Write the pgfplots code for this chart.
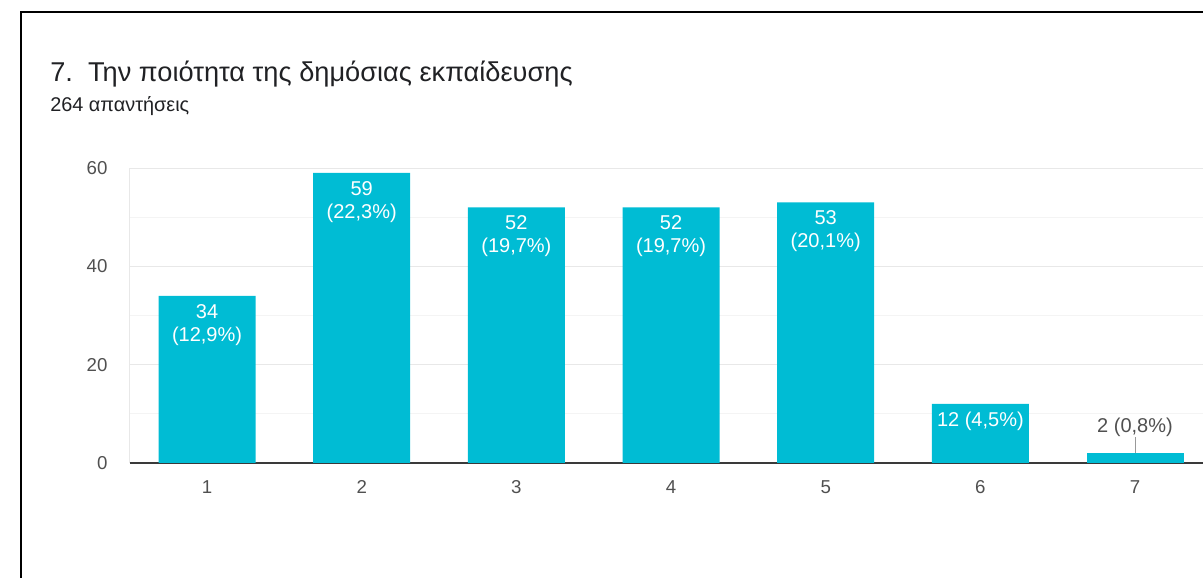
\documentclass[border=0pt]{standalone}
\usepackage{pgfplots}
\pgfplotsset{compat=1.18}
\usepackage{fontspec}
\setmainfont{Liberation Sans}
\definecolor{barc}{HTML}{00BCD4}
\definecolor{titlec}{HTML}{202124}
\definecolor{tickc}{HTML}{505050}
\definecolor{gridmaj}{HTML}{E8E8E8}
\definecolor{gridmin}{HTML}{F4F4F4}
\definecolor{basec}{HTML}{3A3A3A}
\begin{document}
\begin{tikzpicture}[x=0.75pt,y=0.75pt]
\useasboundingbox (0,0) rectangle (1203,578);
\draw[black, line width=1.5pt] (21,0) -- (21,566) -- (1203,566);
\node[anchor=base west, inner sep=0, text=titlec, font=\fontsize{20.4}{24}\selectfont] at (50,496) {7.\ \ Την ποιότητα της δημόσιας εκπαίδευσης};
\node[anchor=base west, inner sep=0, text=titlec, font=\fontsize{14.9}{17}\selectfont] at (50,466) {264 απαντήσεις};
\coordinate (O) at (129.7,115);
\begin{axis}[
  at={(O)}, anchor=south west,
  scale only axis, width=812pt, height=221.25pt,
  xmin=0.5, xmax=7.5, ymin=0, ymax=60,
  ybar, bar width=72.75pt, bar shift=0pt,
  xtick={1,2,3,4,5,6,7},
  ytick={0,20,40,60}, minor ytick={10,30,50},
  ymajorgrids, yminorgrids,
  major grid style={gridmaj, line width=0.75pt},
  minor grid style={gridmin, line width=0.75pt},
  axis x line*=bottom, axis y line*=left,
  x axis line style={basec, line width=1.3pt, -},
  y axis line style={gridmaj, line width=0.75pt, -},
  major tick length=0pt, minor tick length=0pt,
  tick style={draw=none},
  /pgf/number format/assume math mode=true,
  ticklabel style={font=\fontsize{14}{16}\selectfont, text=tickc},
  xticklabel style={anchor=north, inner sep=0pt, yshift=-12.75pt},
  yticklabel style={anchor=east, inner sep=0pt, xshift=-16.5pt},
  clip=false,
]
\addplot[fill=barc, draw=none, nodes near coords, point meta=explicit symbolic,
  every node near coord/.style={anchor=north, inner sep=0pt, yshift=-6pt, text=white, align=center, font=\fontsize{15}{17.25}\selectfont}]
  coordinates {
  (1,34) [34\\(12,9\%)]
  (2,59) [59\\(22,3\%)]
  (3,52) [52\\(19,7\%)]
  (4,52) [52\\(19,7\%)]
  (5,53) [53\\(20,1\%)]
  (6,12) [12 (4,5\%)]
  };
\addplot[fill=barc, draw=none, nodes near coords, point meta=explicit symbolic,
  every node near coord/.style={anchor=base, inner sep=0pt, yshift=15.75pt, text=tickc, font=\fontsize{15}{17.25}\selectfont}]
  coordinates {
  (7,2) [2 (0,8\%)]
  };
\draw[gray!80, line width=0.75pt] (axis cs:7,2) -- ++(0pt,12pt);
\end{axis}
\end{tikzpicture}
\end{document}
